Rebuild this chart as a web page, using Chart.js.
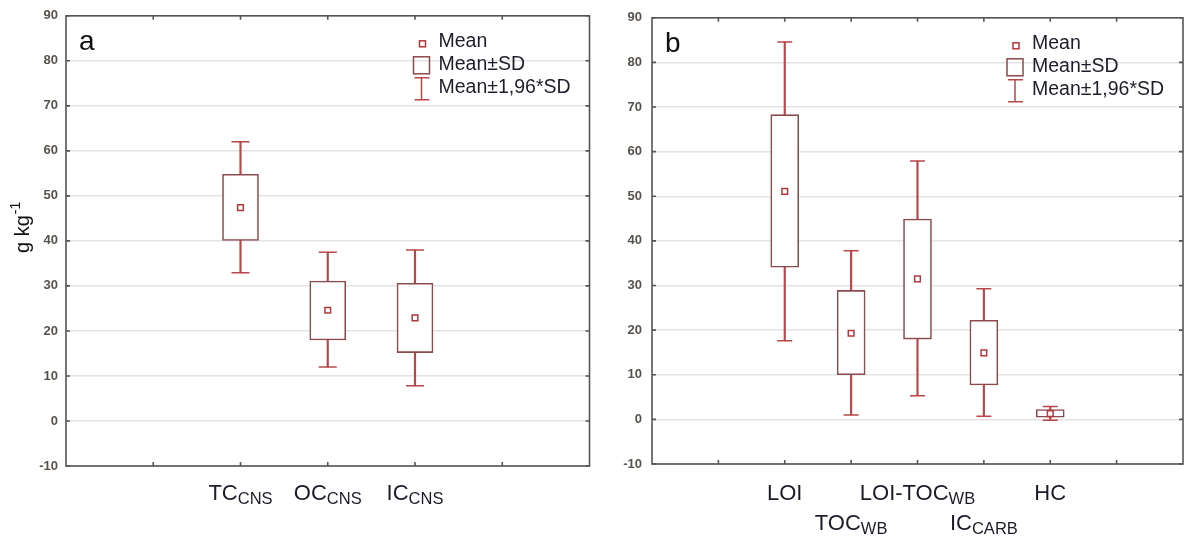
<!doctype html>
<html>
<head>
<meta charset="utf-8">
<title>Carbon fractions - box plots</title>
<script src="https://cdn.jsdelivr.net/npm/chart.js"></script>
<style>
  body { margin: 0; background: #fff; }
  #wrap { display: flex; width: 1192px; height: 539px; }
  canvas { display: block; }
</style>
</head>
<body>
<div id="wrap">
  <canvas id="chartA" width="600" height="539"></canvas>
  <canvas id="chartB" width="592" height="539"></canvas>
</div>

<script>
// panel a - CNS analyser (g kg-1)
var namesA = ["TC", "OC", "IC"];
var subsA = ["CNS", "CNS", "CNS"];
var meanA = [47.4, 24.6, 22.9];
var sdLowA = [40.1, 18.0, 15.2];
var sdHighA = [54.8, 31.1, 30.6];
var ciLowA = [32.9, 12.0, 7.8];
var ciHighA = [62.0, 37.5, 38.0];

// panel b - loss on ignition / Walkley-Black / carbonates
var namesB = ["LOI", "TOC", "LOI-TOC", "IC", "HC"];
var subsB = ["", "WB", "WB", "CARB", ""];
var meanB = [51.1, 19.3, 31.5, 14.9, 1.3];
var sdLowB = [34.1, 10.0, 18.0, 7.7, 0.5];
var sdHighB = [68.3, 28.9, 44.9, 22.2, 2.2];
var ciLowB = [17.6, 1.0, 5.3, 0.7, -0.2];
var ciHighB = [84.6, 37.8, 57.9, 29.3, 2.9];

// shared y axis and legend
var yMin = -10, yMax = 90, yStep = 10;
var yTitle = "g kg", yTitleSup = "-1";
var legendLabels = ["Mean", "Mean\u00b1SD", "Mean\u00b11,96*SD"];

var WHISKER = "#b9474a";
var BOX = "#8d4a4c";
var MEAN = "#b3383c";
var FONT = "'Liberation Sans', Arial, sans-serif";

// put values on the category slots, leaving empty slots at both ends
function pad(values, lead, total) {
  var out = [];
  for (var i = 0; i < total; i++) {
    var j = i - lead;
    out.push(j >= 0 && j < values.length ? values[j] : null);
  }
  return out;
}
function pairs(lo, hi) {
  return lo.map(function (v, i) { return [v, hi[i]]; });
}

var decor = {
  id: "decor",
  afterDraw: function (chart, args, o) {
    var ctx = chart.ctx, a = chart.chartArea;
    var xs = chart.scales.x, ys = chart.scales.y;
    ctx.save();

    // frame with small inward ticks
    ctx.strokeStyle = "#555";
    ctx.lineWidth = 1.6;
    ctx.strokeRect(a.left, a.top, a.right - a.left, a.bottom - a.top);
    ctx.beginPath();
    ys.ticks.forEach(function (t) {
      var py = ys.getPixelForValue(t.value);
      ctx.moveTo(a.left, py); ctx.lineTo(a.left + 4, py);
      ctx.moveTo(a.right, py); ctx.lineTo(a.right - 4, py);
    });
    for (var i = 1; i < chart.data.labels.length - 1; i++) {
      var px = xs.getPixelForValue(i);
      ctx.moveTo(px, a.top); ctx.lineTo(px, a.top + 4);
      ctx.moveTo(px, a.bottom); ctx.lineTo(px, a.bottom - 4);
    }
    ctx.stroke();

    // category names with subscripts
    var big = "22px " + FONT, small = "16.5px " + FONT;
    ctx.fillStyle = "#1c1c28";
    ctx.textAlign = "left";
    ctx.textBaseline = "alphabetic";
    o.names.forEach(function (name, i) {
      var cx = xs.getPixelForValue(i + o.lead);
      var base = chart.height - 39 + (o.stagger ? (i % 2) * 30 : 0);
      ctx.font = big;
      var w1 = ctx.measureText(name).width;
      ctx.font = small;
      var w2 = o.subs[i] ? ctx.measureText(o.subs[i]).width : 0;
      var sx = cx - (w1 + w2) / 2;
      ctx.font = big;
      ctx.fillText(name, sx, base);
      if (o.subs[i]) {
        ctx.font = small;
        ctx.fillText(o.subs[i], sx + w1, base + 4);
      }
    });

    // legend
    var lx = a.right - 167, ly = a.top + 26;
    ctx.lineWidth = 1.5;
    ctx.strokeStyle = MEAN;
    ctx.strokeRect(lx - 3, ly - 1, 6, 6);
    ctx.strokeStyle = BOX;
    ctx.strokeRect(lx - 9, ly + 15, 16, 17);
    ctx.strokeStyle = WHISKER;
    ctx.beginPath();
    ctx.moveTo(lx - 1, ly + 36); ctx.lineTo(lx - 1, ly + 58);
    ctx.moveTo(lx - 8, ly + 36); ctx.lineTo(lx + 7, ly + 36);
    ctx.moveTo(lx - 8, ly + 58); ctx.lineTo(lx + 7, ly + 58);
    ctx.stroke();
    ctx.font = "19.5px " + FONT;
    ctx.fillStyle = "#1e1e2a";
    ctx.textBaseline = "middle";
    legendLabels.forEach(function (t, i) {
      ctx.fillText(t, lx + 16, ly + i * 23);
    });

    // panel letter
    ctx.font = "28px " + FONT;
    ctx.fillStyle = "#111";
    ctx.textBaseline = "alphabetic";
    ctx.fillText(o.letter, a.left + 13, a.top + 34);

    // rotated y title, only on the first panel
    if (o.title) {
      ctx.translate(29, 253);
      ctx.rotate(-Math.PI / 2);
      ctx.font = "20px " + FONT;
      ctx.fillText(yTitle, 0, 0);
      var tw = ctx.measureText(yTitle).width;
      ctx.font = "14px " + FONT;
      ctx.fillText(yTitleSup, tw + 1, -9);
    }
    ctx.restore();
  }
};

function makeChart(id, p) {
  var slots = p.names.length + 2 * p.lead;
  var labels = pad(p.names, p.lead, slots).map(function (n) { return n || ""; });
  var capStyle = {
    type: "line", showLine: false, pointStyle: "line", pointRadius: p.cap,
    pointBorderColor: WHISKER, pointBorderWidth: 1.5, order: 2
  };
  return new Chart(document.getElementById(id), {
    type: "bar",
    data: {
      labels: labels,
      datasets: [
        {
          data: pad(pairs(p.ciLow, p.ciHigh), p.lead, slots),
          backgroundColor: WHISKER, borderWidth: 0,
          barThickness: 1.5, grouped: false, order: 4
        },
        {
          data: pad(pairs(p.sdLow, p.sdHigh), p.lead, slots),
          backgroundColor: "#fff", borderColor: BOX, borderWidth: 1.6,
          borderSkipped: false, barThickness: p.box, grouped: false, order: 3
        },
        Object.assign({ data: pad(p.ciHigh, p.lead, slots) }, capStyle),
        Object.assign({ data: pad(p.ciLow, p.lead, slots) }, capStyle),
        {
          type: "line", data: pad(p.mean, p.lead, slots), showLine: false,
          pointStyle: "rect", pointRadius: 4, pointBackgroundColor: "#fff",
          pointBorderColor: MEAN, pointBorderWidth: 1.5, order: 1
        }
      ]
    },
    options: {
      responsive: false,
      animation: false,
      events: [],
      layout: { padding: { top: 15, right: p.right, left: 0, bottom: 0 } },
      plugins: {
        legend: { display: false },
        tooltip: { enabled: false },
        decor: {
          names: p.names, subs: p.subs, lead: p.lead, stagger: p.stagger,
          letter: p.letter, title: p.title
        }
      },
      scales: {
        x: {
          type: "category", offset: false,
          grid: { display: false, drawTicks: false },
          border: { display: false },
          ticks: { display: false },
          afterFit: function (s) { s.height = p.bottom; }
        },
        y: {
          min: yMin, max: yMax,
          ticks: {
            stepSize: yStep, padding: p.tickPad, color: "#57524c",
            font: { family: "'Liberation Sans Narrow', 'Liberation Sans', Arial", size: 13, weight: "bold" }
          },
          grid: { color: "#e4e4e4", lineWidth: 1.5, drawTicks: false },
          border: { display: false },
          afterFit: function (s) { s.width = p.axis; }
        }
      }
    },
    plugins: [decor]
  });
}

makeChart("chartA", {
  names: namesA, subs: subsA, mean: meanA, sdLow: sdLowA, sdHigh: sdHighA,
  ciLow: ciLowA, ciHigh: ciHighA, lead: 2, stagger: false, letter: "a", title: true,
  axis: 66, right: 5, bottom: 73, tickPad: 8, box: 36, cap: 9
});
makeChart("chartB", {
  names: namesB, subs: subsB, mean: meanB, sdLow: sdLowB, sdHigh: sdHighB,
  ciLow: ciLowB, ciHigh: ciHighB, lead: 2, stagger: true, letter: "b", title: false,
  axis: 52, right: 2, bottom: 75, tickPad: 10, box: 28, cap: 7.5
});
</script>
</body>
</html>
